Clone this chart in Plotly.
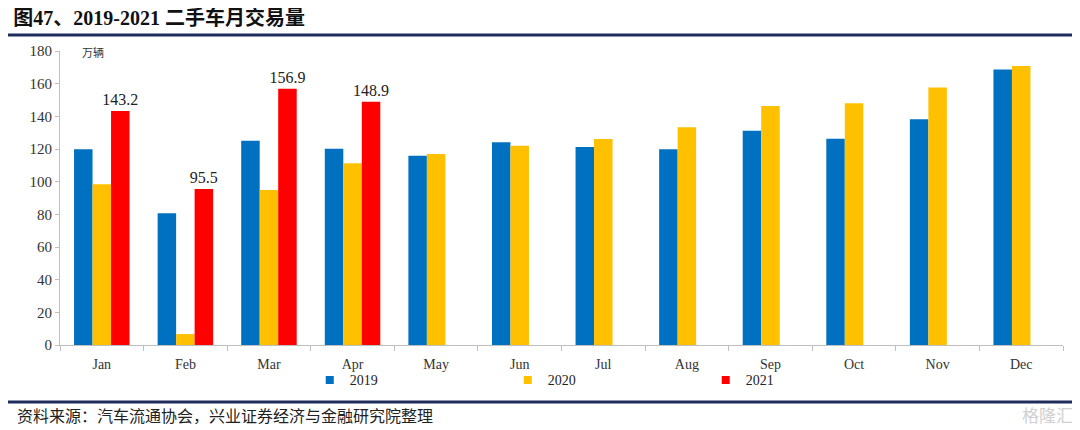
import plotly.graph_objects as go

months = ["Jan", "Feb", "Mar", "Apr", "May", "Jun", "Jul", "Aug", "Sep", "Oct", "Nov", "Dec"]
v2019 = [119.8, 80.6, 125.1, 120.2, 115.9, 124.1, 121.2, 119.8, 131.2, 126.3, 138.2, 168.6]
v2020 = [98.4, 6.7, 94.9, 111.2, 116.9, 122.0, 126.1, 133.3, 146.3, 148.0, 157.6, 170.8]
v2021 = [143.2, 95.5, 156.9, 148.9, None, None, None, None, None, None, None, None]
series_names = ["2019", "2020", "2021"]
colors = ["#0070C0", "#FFC000", "#FF0000"]
y_ticks = [0, 20, 40, 60, 80, 100, 120, 140, 160, 180]

title_text = "图47、2019-2021 二手车月交易量"
unit_text = "万辆"
source_text = "资料来源：汽车流通协会，兴业证券经济与金融研究院整理"

serif = "Liberation Serif, Noto Sans CJK SC, serif"

fig = go.Figure()
for name, vals, col in zip(series_names, [v2019, v2020, v2021], colors):
    show_text = name == "2021"
    fig.add_trace(go.Bar(
        x=months, y=vals, name=name, legendgroup=name, showlegend=False,
        marker=dict(color=col, line=dict(width=0)),
        text=[("%.1f" % v) if (v is not None and show_text) else "" for v in vals],
        textposition="outside",
        constraintext="none",
        textfont=dict(family=serif, size=16, color="#222222"),
        cliponaxis=False,
    ))
# legend entries with small square swatches like the reference
for name, col in zip(series_names, colors):
    fig.add_trace(go.Scatter(
        x=[None], y=[None], name=name, legendgroup=name, mode="markers",
        marker=dict(symbol="square", size=8, color=col),
    ))

# page body has an 8px margin: figure is 1072x422 and sits at (8, 8)
fig.update_layout(
    width=1072, height=422,
    margin=dict(l=52, r=17, t=43, b=85),
    paper_bgcolor="white", plot_bgcolor="white",
    barmode="group", bargap=0.336, bargroupgap=0,
    showlegend=True,
    legend=dict(orientation="h", x=0.249, xanchor="left", y=-0.12, yanchor="middle",
                bgcolor="rgba(0,0,0,0)", itemwidth=30,
                font=dict(family=serif, size=14, color="#222222"),
                entrywidth=153, entrywidthmode="pixels",
                itemclick=False, itemdoubleclick=False),
    title=dict(text=title_text, x=0.005, xanchor="left", y=0.976, yanchor="middle",
               font=dict(family="Liberation Serif, Noto Sans CJK SC", size=20, color="#111111", weight="bold")),
    font=dict(family=serif),
)

fig.update_xaxes(
    type="category", categoryorder="array", categoryarray=months,
    showline=True, linecolor="#BFBFBF", linewidth=1,
    ticks="outside", tickson="boundaries", ticklen=5, tickcolor="#BFBFBF",
    ticklabelstandoff=6,
    tickfont=dict(family=serif, size=14, color="#333333"),
    showgrid=False, zeroline=False,
)
fig.update_yaxes(
    range=[0, 180], tickvals=y_ticks, showline=True, linecolor="#BFBFBF", linewidth=1,
    ticks="outside", ticklen=4, tickcolor="#BFBFBF",
    tickfont=dict(family=serif, size=15, color="#333333"),
    showgrid=False, zeroline=False,
)

# header and footer rules
fig.add_shape(type="line", xref="paper", yref="paper", x0=-0.06, x1=1.02, y0=1.054, y1=1.054,
              line=dict(color="#1F2D5C", width=3))
fig.add_shape(type="line", xref="paper", yref="paper", x0=-0.06, x1=1.02, y0=-0.194, y1=-0.194,
              line=dict(color="#1F2D5C", width=3))

fig.add_annotation(text=unit_text, xref="paper", yref="paper", x=0.02, y=0.995,
                   xanchor="left", yanchor="middle", showarrow=False,
                   font=dict(family="Noto Sans CJK SC", size=11, color="#333333"))
fig.add_annotation(text=source_text, xref="paper", yref="paper", x=-0.045, y=-0.238,
                   xanchor="left", yanchor="middle", showarrow=False,
                   font=dict(family="Noto Sans CJK SC", size=16, color="#222222"))
fig.add_annotation(text="格隆汇", xref="paper", yref="paper", x=1.012, y=-0.238,
                   xanchor="right", yanchor="middle", showarrow=False,
                   font=dict(family="Noto Sans CJK SC", size=17, color="#D0D0D0"))

fig.write_html("out.html")
